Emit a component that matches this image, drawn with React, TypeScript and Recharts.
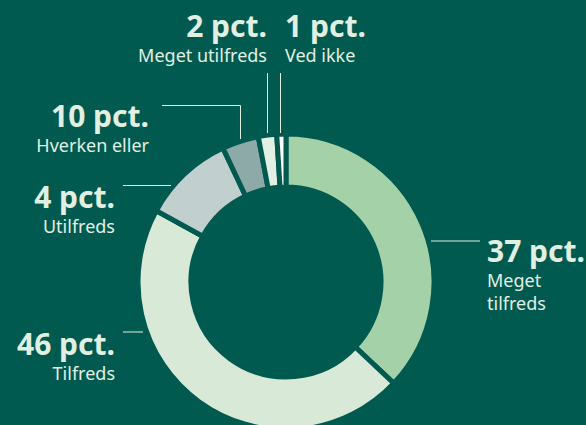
import React from "react";
import { PieChart, Pie, Cell } from "recharts";

const categories = ["Meget tilfreds", "Tilfreds", "Hverken eller", "Utilfreds", "Meget utilfreds", "Ved ikke"];
const values = [37, 46, 10, 4, 2, 1];
const labelLines = [["Meget", "tilfreds"], ["Tilfreds"], ["Hverken eller"], ["Utilfreds"], ["Meget utilfreds"], ["Ved ikke"]];
const unit = "pct.";

const colors = ["#a4d1a8", "#d8ead7", "#c1cfcf", "#8eaaa8", "#e3f0e4", "#ffffff"];
const BG = "#005a50";
const TEXT = "#e2f0e2";
const FONT = "'Noto Sans', sans-serif";

type Layout = {
  x: number;
  anchor: "start" | "end";
  base: number;
  line: number[][];
};

const layout: Layout[] = [
  { x: 487, anchor: "start", base: 262, line: [[431, 241], [480, 241]] },
  { x: 115, anchor: "end", base: 355, line: [[123, 332], [143, 332]] },
  { x: 149, anchor: "end", base: 127, line: [[162, 105.5], [240.5, 105.5], [240.5, 139]] },
  { x: 115, anchor: "end", base: 208, line: [[123, 185.5], [171, 185.5]] },
  { x: 267, anchor: "end", base: 37, line: [[267.5, 73], [267.5, 133]] },
  { x: 285, anchor: "start", base: 37, line: [[280.5, 73], [280.5, 133]] },
];

const data = categories.map((name, i) => ({ name, value: values[i], lines: labelLines[i] }));

const renderLabel = (props: any) => {
  const i = props.index;
  const l = layout[i];
  const entry = data[i];
  return (
    <g key={`lbl-${i}`}>
      <polyline
        points={l.line.map((p) => p.join(",")).join(" ")}
        fill="none"
        stroke={TEXT}
        strokeWidth={1}
      />
      <text x={l.x} y={l.base} textAnchor={l.anchor} fill={TEXT} fontFamily={FONT} fontWeight={700} fontSize={30}>
        {`${entry.value} ${unit}`}
      </text>
      {entry.lines.map((t, k) => (
        <text
          key={k}
          x={l.x}
          y={l.base + 25 + k * 23}
          textAnchor={l.anchor}
          fill={TEXT}
          fontFamily={FONT}
          fontSize={18}
        >
          {t}
        </text>
      ))}
    </g>
  );
};

export default function App() {
  return (
    <div style={{ width: 586, height: 425, background: BG, overflow: "hidden" }}>
      <style>{`body{margin:0;background:${BG};}`}</style>
      <PieChart width={586} height={425} margin={{ top: 0, right: 0, bottom: 0, left: 0 }}>
        <Pie
          data={data}
          dataKey="value"
          nameKey="name"
          cx={286}
          cy={282}
          innerRadius={95}
          outerRadius={148}
          startAngle={90}
          endAngle={-270}
          stroke={BG}
          strokeWidth={5}
          label={renderLabel}
          labelLine={false}
          isAnimationActive={false}
        >
          {data.map((d, i) => (
            <Cell key={d.name} fill={colors[i]} />
          ))}
        </Pie>
      </PieChart>
    </div>
  );
}
